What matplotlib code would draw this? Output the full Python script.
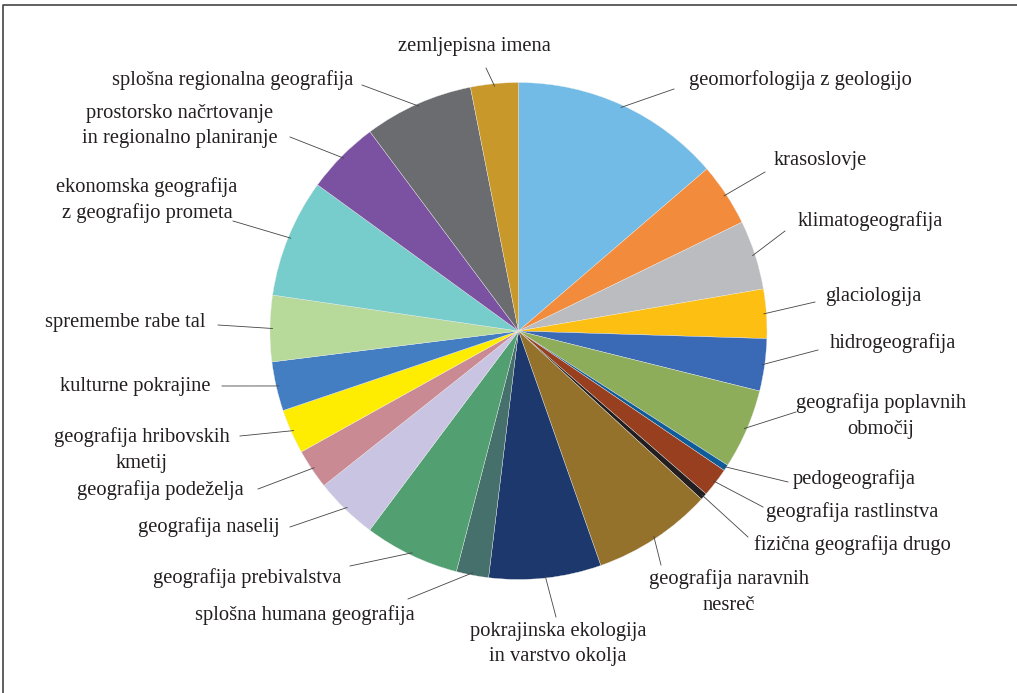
import numpy as np
import matplotlib
matplotlib.use("Agg")
import matplotlib.pyplot as plt

# Share of articles per field (in %)
fields = [
    "geomorfologija z geologijo", "krasoslovje", "klimatogeografija", "glaciologija",
    "hidrogeografija", "geografija poplavnih\nobmočij", "pedogeografija",
    "geografija rastlinstva", "fizična geografija drugo", "geografija naravnih\nnesreč",
    "pokrajinska ekologija\nin varstvo okolja", "splošna humana geografija",
    "geografija prebivalstva", "geografija naselij", "geografija podeželja",
    "geografija hribovskih\nkmetij", "kulturne pokrajine", "spremembe rabe tal",
    "ekonomska geografija\nz geografijo prometa",
    "prostorsko načrtovanje\nin regionalno planiranje",
    "splošna regionalna geografija", "zemljepisna imena",
]
shares = [13.7, 4.1, 4.5, 3.2, 3.4, 5.2, 0.4, 1.9, 0.45, 7.8, 7.3,
          2.1, 6.2, 4.1, 2.6, 2.9, 3.2, 4.3, 7.7, 4.8, 7.1, 3.1]
colors = ["#72BBE6", "#F28C3C", "#BBBCBF", "#FDBF12", "#3A6AB5", "#8DAD5B",
          "#0F5C9A", "#983F20", "#231F20", "#95722C", "#1C386C", "#46706C",
          "#52A072", "#C8C4E2", "#C98A94", "#FEED00", "#447EC2", "#B7D99A",
          "#77CCCC", "#7B51A1", "#6B6C70", "#C8992A"]

# label placement in pixel coords (x, y from top): text centre and line end
label_xy = [(800, 80), (820, 160), (870, 221), (873, 296), (893, 343), (881, 416),
            (854, 479), (852, 512), (852, 545), (729, 592), (558, 644), (305, 615),
            (247, 578), (209, 527), (160, 490), (142, 450), (135, 387), (125, 322),
            (147, 200), (180, 126), (233, 80), (474, 46)]
line_end = [(674, 89), (765, 172), (785, 231), (815, 302), (818, 350), (796, 412),
            (788, 482), (763, 507), (748, 537), (661, 565), (556, 617), (408, 599),
            (350, 566), (290, 527), (258, 489), (240, 436), (222, 386), (218, 325),
            (233, 221), (290, 137), (362, 85), (486, 68)]

W, H = 1017, 693
cx, cy, R = 518.5, H - 331, 248.5

fig = plt.figure(figsize=(W / 100, H / 100), dpi=100)
ax = fig.add_axes([0, 0, 1, 1])

wedges, _ = ax.pie(shares, colors=colors, startangle=90, counterclock=False,
                   center=(cx, cy), radius=R,
                   wedgeprops=dict(edgecolor="#EEEEEE", linewidth=0.25))
ax.set_xlim(0, W)
ax.set_ylim(0, H)
ax.set_aspect("equal")
ax.axis("off")

txt_col = "#231F20"
for w, lab, (tx, ty), (lx, ly) in zip(wedges, fields, label_xy, line_end):
    mid = np.deg2rad((w.theta1 + w.theta2) / 2)
    px = cx + 0.99 * R * np.cos(mid)
    py = cy + 0.99 * R * np.sin(mid)
    ax.plot([px, lx], [py, H - ly], color="#444444", lw=0.6)
    ax.text(tx, H - ty, lab, ha="center", va="center", fontsize=14.8,
            family="Liberation Serif", color=txt_col, linespacing=1.45)

# frame around the figure
ax.plot([3, 3, W + 5], [-5, H - 5, H - 5], color="#444444", lw=1.2, clip_on=False)

fig.savefig("out.png", dpi=100)
